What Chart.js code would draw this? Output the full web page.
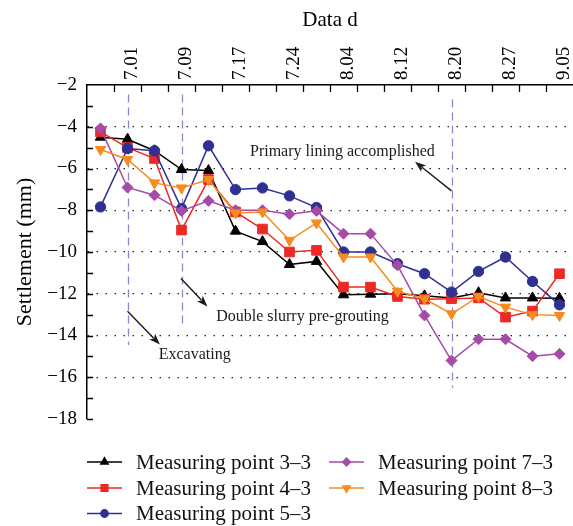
<!DOCTYPE html>
<html>
<head>
<meta charset="utf-8">
<script src="https://cdn.jsdelivr.net/npm/chart.js@4.4.1/dist/chart.umd.min.js"></script>
<style>
  html, body { margin: 0; padding: 0; background: #fff; }
</style>
</head>
<body>
<canvas id="grafico" width="573" height="526"></canvas>
<script>
// Measurement dates (only every other category carries a label)
const datas = ['', '7.01', '', '7.09', '', '7.17', '', '7.24', '', '8.04', '', '8.12', '', '8.20', '', '8.27', '', '9.05'];

// Settlement per measuring point (mm)
const ponto33 = [-4.5, -4.6, -5.15, -6.05, -6.1, -9.0, -9.5, -10.6, -10.45, -12.05, -12.02, -12.0, -12.1, -12.2, -11.95, -12.2, -12.2, -12.22];
const ponto43 = [-4.25, -5.0, -5.52, -8.95, -6.53, -8.08, -8.9, -10.0, -9.92, -11.68, -11.68, -12.13, -12.26, -12.24, -12.2, -13.12, -12.83, -11.04];
const ponto53 = [-7.84, -5.04, -5.15, -7.92, -4.91, -7.01, -6.93, -7.31, -7.87, -10.0, -10.0, -10.56, -11.04, -11.92, -10.93, -10.24, -11.41, -12.53];
const ponto73 = [-4.08, -6.91, -7.28, -8.03, -7.55, -8.0, -8.0, -8.19, -8.03, -9.12, -9.12, -10.64, -13.04, -15.2, -14.18, -14.18, -14.99, -14.88];
const ponto83 = [-5.09, -5.57, -6.69, -6.93, -6.53, -8.13, -8.08, -9.44, -8.61, -10.24, -10.24, -11.88, -12.24, -12.96, -12.13, -12.64, -13.0, -13.04];

// Construction events: category index and the span of the dashed marker (mm)
const eventos = [1, 3, 13];
const eventoTopo = [-2.45, -2.45, -2.7];
const eventoBase = [-14.45, -13.6, -16.5];

// Notes with arrows (x in category index, y in mm)
const notas = [
    { texto: 'Excavating', x: 3.49, y: -14.91, de: [1.0, -12.84], para: [2.2, -14.43] },
    { texto: 'Double slurry pre-grouting', x: 7.48, y: -13.12, de: [2.98, -11.27], para: [3.96, -12.61] },
    { texto: 'Primary lining accomplished', x: 8.96, y: -5.2, de: [13.0, -7.07], para: [11.65, -5.68] }
];

const FONTE = "'Liberation Serif', 'Times New Roman', serif";

function serie(label, data, cor, estilo, raio, rot, ordem) {
    return {
        label, data,
        borderColor: cor, backgroundColor: cor,
        pointBackgroundColor: cor, pointBorderColor: cor,
        pointStyle: estilo, pointRadius: raio, pointRotation: rot || 0,
        pointBorderWidth: 1, borderWidth: 1.5, tension: 0,
        order: ordem
    };
}

// Inward tick marks on both axes
const ticksInternos = {
    id: 'ticksInternos',
    afterDraw(chart) {
        const { ctx, chartArea, scales: { x, y } } = chart;
        ctx.save();
        ctx.strokeStyle = '#000';
        ctx.lineWidth = 1.3;
        ctx.beginPath();
        for (let i = 1; i < datas.length; i++) {
            const px = Math.round((x.getPixelForValue(i - 1) + x.getPixelForValue(i)) / 2) + 0.5;
            ctx.moveTo(px, chartArea.top);
            ctx.lineTo(px, chartArea.top + 7);
        }
        for (let v = y.min; v < y.max; v++) {
            const py = Math.round(y.getPixelForValue(v)) + 0.5;
            ctx.moveTo(chartArea.left, py);
            ctx.lineTo(chartArea.left + 6, py);
        }
        ctx.stroke();
        ctx.restore();
    }
};

// Dashed event markers, behind the series
const marcosEventos = {
    id: 'marcosEventos',
    beforeDatasetsDraw(chart) {
        const { ctx, scales: { x, y } } = chart;
        ctx.save();
        ctx.strokeStyle = '#8a8acb';
        ctx.lineWidth = 1.3;
        ctx.setLineDash([8, 5]);
        eventos.forEach((idx, i) => {
            const px = Math.round(x.getPixelForValue(idx)) + 0.5;
            ctx.beginPath();
            ctx.moveTo(px, y.getPixelForValue(eventoTopo[i]));
            ctx.lineTo(px, y.getPixelForValue(eventoBase[i]));
            ctx.stroke();
        });
        ctx.restore();
    }
};

function seta(ctx, x1, y1, x2, y2) {
    const ang = Math.atan2(y2 - y1, x2 - x1);
    const comp = 11, larg = 4;
    ctx.beginPath();
    ctx.moveTo(x1, y1);
    ctx.lineTo(x2 - Math.cos(ang) * comp * 0.8, y2 - Math.sin(ang) * comp * 0.8);
    ctx.stroke();
    ctx.beginPath();
    ctx.moveTo(x2, y2);
    ctx.lineTo(x2 - Math.cos(ang) * comp + Math.sin(ang) * larg, y2 - Math.sin(ang) * comp - Math.cos(ang) * larg);
    ctx.lineTo(x2 - Math.cos(ang) * comp * 0.75, y2 - Math.sin(ang) * comp * 0.75);
    ctx.lineTo(x2 - Math.cos(ang) * comp - Math.sin(ang) * larg, y2 - Math.sin(ang) * comp + Math.cos(ang) * larg);
    ctx.closePath();
    ctx.fill();
}

// Text notes and arrows
const anotacoes = {
    id: 'anotacoes',
    afterDraw(chart) {
        const { ctx, scales: { x, y } } = chart;
        ctx.save();
        ctx.fillStyle = '#1a1a1a';
        ctx.strokeStyle = '#1a1a1a';
        ctx.lineWidth = 1.4;
        ctx.font = '16px ' + FONTE;
        ctx.textAlign = 'center';
        ctx.textBaseline = 'middle';
        notas.forEach(n => {
            ctx.fillText(n.texto, x.getPixelForValue(n.x), y.getPixelForValue(n.y));
            seta(ctx, x.getPixelForValue(n.de[0]), y.getPixelForValue(n.de[1]),
                 x.getPixelForValue(n.para[0]), y.getPixelForValue(n.para[1]));
        });
        ctx.restore();
    }
};

// Two-column legend below the plot: line + marker + label
const legendaLinhas = {
    id: 'legendaLinhas',
    afterDraw(chart) {
        const { ctx } = chart;
        const colunas = [87, 329];
        const linhas = [462, 488, 513.5];
        const posicoes = [[0, 0], [0, 1], [0, 2], [1, 0], [1, 1]];
        ctx.save();
        ctx.font = '21px ' + FONTE;
        ctx.textBaseline = 'middle';
        ctx.textAlign = 'left';
        chart.data.datasets.forEach((ds, i) => {
            const [c, l] = posicoes[i];
            const x0 = colunas[c], yy = linhas[l];
            ctx.strokeStyle = ds.borderColor;
            ctx.lineWidth = 1.5;
            ctx.beginPath();
            ctx.moveTo(x0, yy);
            ctx.lineTo(x0 + 35, yy);
            ctx.stroke();
            Chart.helpers.drawPoint(ctx, {
                pointStyle: ds.pointStyle, rotation: ds.pointRotation,
                radius: ds.pointRadius * 0.7, borderWidth: 1
            }, x0 + 17.5, yy);
            ctx.fillStyle = ds.borderColor;
            ctx.fill();
            ctx.fillStyle = '#111';
            ctx.fillText(ds.label, x0 + 49, yy + 1);
        });
        ctx.restore();
    }
};

new Chart(document.getElementById('grafico'), {
    type: 'line',
    data: {
        labels: datas,
        datasets: [
            serie('Measuring point 3–3', ponto33, '#000000', 'triangle', 6, 0, 5),
            serie('Measuring point 4–3', ponto43, '#ec2a25', 'rect', 6.8, 0, 4),
            serie('Measuring point 5–3', ponto53, '#2e3192', 'circle', 5.2, 0, 3),
            serie('Measuring point 7–3', ponto73, '#a54ba6', 'rectRot', 5.5, 0, 2),
            serie('Measuring point 8–3', ponto83, '#f68b1f', 'triangle', 6, 180, 1)
        ]
    },
    options: {
        responsive: false,
        animation: false,
        layout: { autoPadding: false, padding: { left: 0, right: 0, top: 0, bottom: 107 } },
        plugins: { legend: { display: false }, tooltip: { enabled: false } },
        scales: {
            x: {
                type: 'category',
                position: 'top',
                offset: true,
                grid: { display: false, drawTicks: false },
                border: { display: true, color: '#000', width: 1.5 },
                ticks: {
                    autoSkip: false, maxRotation: 90, minRotation: 90, padding: 5,
                    labelOffset: 27,
                    color: '#000', font: { family: FONTE, size: 19 }
                },
                title: {
                    display: true, text: 'Data d', color: '#000',
                    font: { family: FONTE, size: 21 }, padding: { top: 8, bottom: 0 }
                },
                afterFit: s => { s.height = 85; s.paddingLeft = 0; s.paddingRight = 0; }
            },
            y: {
                min: -18, max: -2,
                grid: {
                    drawTicks: false, lineWidth: 1.3,
                    color: c => (c.tick && c.tick.value % 2 === 0 && c.tick.value > -18 && c.tick.value < -2) ? '#222' : 'rgba(0,0,0,0)'
                },
                border: { display: true, color: '#000', width: 1.5, dash: [1.5, 7.5] },
                ticks: {
                    stepSize: 1, padding: 10, color: '#000',
                    font: { family: FONTE, size: 19 },
                    callback: v => (v % 2 === 0 ? '\u2212' + Math.abs(v) : '')
                },
                title: {
                    display: true, text: 'Settlement (mm)', color: '#000',
                    font: { family: FONTE, size: 22 }, padding: { top: 12, bottom: 0 }
                },
                afterFit: s => { s.width = 87; }
            }
        }
    },
    plugins: [ticksInternos, marcosEventos, anotacoes, legendaLinhas]
});
</script>
</body>
</html>
